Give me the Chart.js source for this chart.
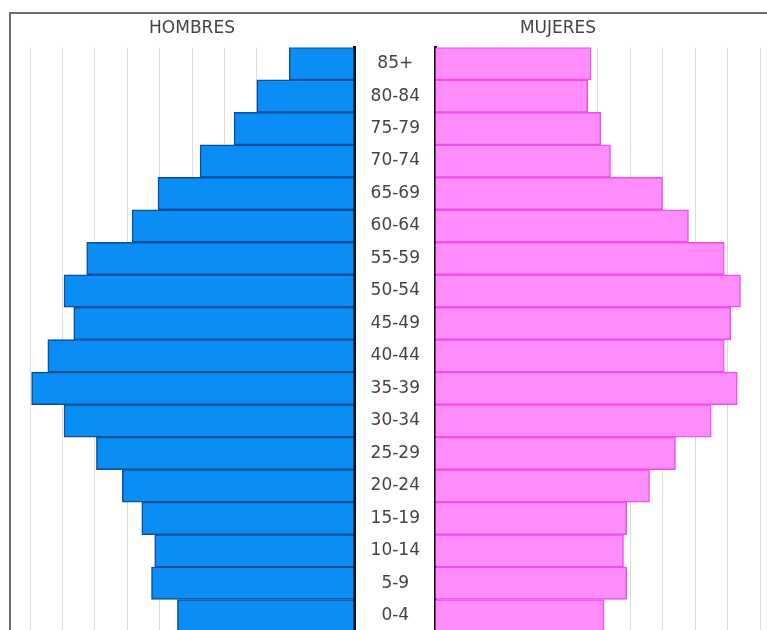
<!DOCTYPE html>
<html>
<head>
<meta charset="utf-8">
<script src="https://cdn.jsdelivr.net/npm/chart.js@4.4.1/dist/chart.umd.min.js"></script>
<style>
  html, body { margin: 0; padding: 0; background: #fff; overflow: hidden; }
  #page { position: relative; width: 767px; height: 630px; overflow: hidden; }
  #frame { position: absolute; left: 9px; top: 12px; width: 800px; height: 700px;
           border: 2px solid #6e6e6e; border-right: none; border-bottom: none; box-sizing: border-box; }
  #leftBox  { position: absolute; left: 0;     top: 0; width: 356px; height: 640px; }
  #rightBox { position: absolute; left: 356px; top: 0; width: 411px; height: 640px; }
</style>
</head>
<body>
<div id="page">
  <div id="frame"></div>
  <div id="leftBox"><canvas id="menChart"></canvas></div>
  <div id="rightBox"><canvas id="womenChart"></canvas></div>
</div>
<script>
// grupos de edad, de arriba hacia abajo
const ageGroups = ['85+', '80-84', '75-79', '70-74', '65-69', '60-64', '55-59', '50-54', '45-49',
                   '40-44', '35-39', '30-34', '25-29', '20-24', '15-19', '10-14', '5-9', '0-4'];
const hombres = [2.0, 3.0, 3.7, 4.75, 6.05, 6.85, 8.25, 8.95, 8.65, 9.45, 9.95, 8.95, 7.95, 7.15, 6.55, 6.15, 6.25, 5.45];
const mujeres = [4.8, 4.7, 5.1, 5.4, 7.0, 7.8, 8.9, 9.4, 9.1, 8.9, 9.3, 8.5, 7.4, 6.6, 5.9, 5.8, 5.9, 5.2];
const xMax = 10;

const font = 'DejaVu Sans, Verdana, sans-serif';
const gridColor = '#dcdcdc';

function titleOpts(text) {
  return {
    display: true, text: text, color: '#444',
    font: { family: font, size: 17, weight: 'normal', lineHeight: 1.2 },
    padding: { top: 6, bottom: 9 }
  };
}

// Hombres (izquierda, eje x invertido)
new Chart(document.getElementById('menChart'), {
  type: 'bar',
  data: {
    labels: ageGroups,
    datasets: [{
      label: 'HOMBRES', data: hombres,
      backgroundColor: '#0a8df5', borderColor: '#0b4f96', borderWidth: 1.5,
      categoryPercentage: 1, barPercentage: 1
    }]
  },
  options: {
    indexAxis: 'y', responsive: true, maintainAspectRatio: false, animation: false,
    layout: { padding: { left: 30, right: 2, top: 12, bottom: 8 } },
    plugins: { legend: { display: false }, tooltip: { enabled: false }, title: titleOpts('HOMBRES') },
    scales: {
      x: { min: 0, max: xMax, reverse: true,
           ticks: { display: false, stepSize: 1 },
           grid: { color: gridColor, drawTicks: false },
           border: { display: false } },
      y: { position: 'right',
           ticks: { display: false },
           grid: { display: false, drawTicks: false },
           border: { display: true, color: '#111', width: 3 } }
    }
  }
});

// Mujeres (derecha) con las etiquetas de edad en su eje y
new Chart(document.getElementById('womenChart'), {
  type: 'bar',
  data: {
    labels: ageGroups,
    datasets: [{
      label: 'MUJERES', data: mujeres,
      backgroundColor: '#ff8cfb', borderColor: '#ee4fe8', borderWidth: 1.5,
      categoryPercentage: 1, barPercentage: 1
    }]
  },
  options: {
    indexAxis: 'y', responsive: true, maintainAspectRatio: false, animation: false,
    layout: { padding: { left: 0, right: 7, top: 12, bottom: 8 } },
    plugins: { legend: { display: false }, tooltip: { enabled: false }, title: titleOpts('MUJERES') },
    scales: {
      x: { min: 0, max: xMax,
           ticks: { display: false, stepSize: 1 },
           grid: { color: gridColor, drawTicks: false },
           border: { display: false } },
      y: { position: 'left',
           afterFit: s => { s.width = 79; s.paddingTop = 0; s.paddingBottom = 0; },
           ticks: { color: '#444', font: { family: font, size: 17 }, crossAlign: 'center', padding: 15 },
           grid: { display: false, drawTicks: false },
           border: { display: true, color: '#111', width: 3 } }
    }
  }
});
</script>
</body>
</html>
